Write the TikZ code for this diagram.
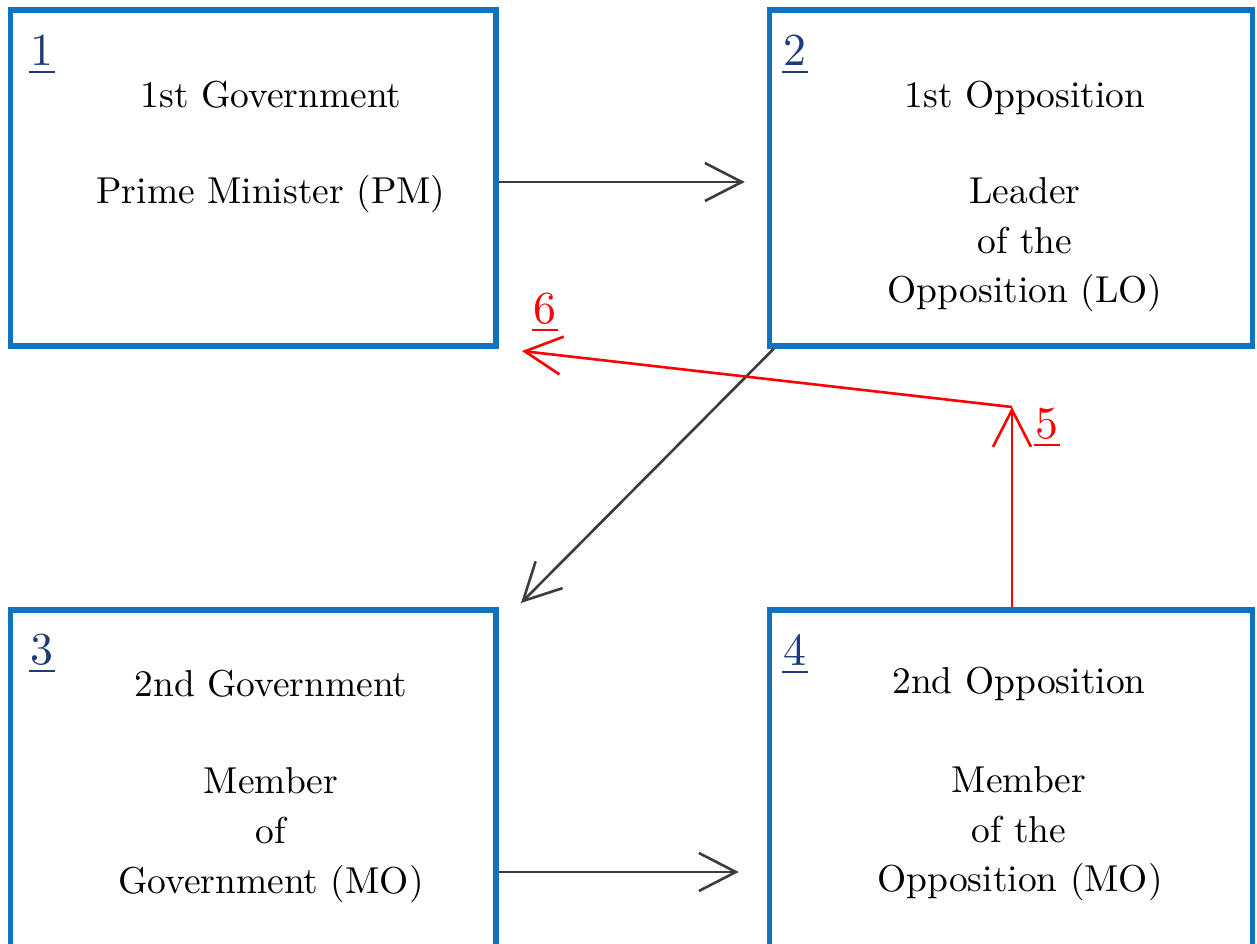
\documentclass[tikz,border=0pt]{standalone}
\usepackage{fontspec}
\usetikzlibrary{arrows.meta}
\newfontfamily\lmten{lmroman10-regular}[Extension=.otf]
\definecolor{boxblue}{RGB}{16,113,190}
\definecolor{navy}{RGB}{30,58,120}
\definecolor{arrgray}{RGB}{60,60,60}
\definecolor{arrred}{RGB}{255,0,0}
\tikzset{
  panel/.style={draw=boxblue, line width=5.5bp, rectangle, inner sep=0pt},
  txt/.style={font=\lmten\fontsize{37.6}{45}\selectfont, anchor=base, inner sep=0pt},
  num/.style={font=\lmten\fontsize{46}{50}\selectfont, text=navy, anchor=base west, inner sep=0pt},
  rnum/.style={font=\lmten\fontsize{46}{50}\selectfont, text=arrred, anchor=base, inner sep=0pt},
  uline/.style={line width=2.2bp},
  conn/.style={draw=arrgray, line width=2.6bp, -{Straight Barb[length=37bp,width=38bp]}},
  rconn/.style={draw=arrred, line width=2.6bp, -{Straight Barb[length=37bp,width=38bp]}}
}
\begin{document}
\begin{tikzpicture}[x=1bp,y=-1bp]
\useasboundingbox (0,0) rectangle (1257,944);
\clip (0,0) rectangle (1257,944);
\fill[white] (0,0) rectangle (1257,944);

% panels
\node[panel, minimum width=485.5bp, minimum height=336bp] (b1) at (253.25,178) {};
\node[panel, minimum width=483bp, minimum height=336bp] (b2) at (1011,178) {};
\node[panel, minimum width=485.5bp, minimum height=400bp] (b3) at (253.25,810) {};
\node[panel, minimum width=483bp, minimum height=400bp] (b4) at (1011,810) {};

% numbers
\node[num] (n1) at (30,65) {1};
\node[num] (n2) at (783,65) {2};
\node[num] (n3) at (30,664) {3};
\node[num] (n4) at (783,665) {4};
\foreach \n in {n1,n2,n3,n4}
  \draw[navy, uline] ([xshift=-1.5bp,yshift=-7bp]\n.base west) -- ([xshift=1.5bp,yshift=-7bp]\n.base east);

% box texts
\node[txt] (t11) at (271,107) {1st Government};
\node[txt] (t12) at (271,203) {Prime Minister (PM)};

\node[txt] (t21) at (1025,107) {1st Opposition};
\node[txt] (t22) at (1025,203) {Leader};
\node[txt] (t23) at (1025,253) {of the};
\node[txt] (t24) at (1025,302) {Opposition (LO)};

\node[txt] (t31) at (271,696) {2nd Government};
\node[txt] (t32) at (271,793) {Member};
\node[txt] (t33) at (271,843) {of};
\node[txt] (t34) at (271,893) {Government (MO)};

\node[txt] (t41) at (1019,693) {2nd Opposition};
\node[txt] (t42) at (1019,792) {Member};
\node[txt] (t43) at (1019,842) {of the};
\node[txt] (t44) at (1020,891) {Opposition (MO)};

% connectors
\coordinate (y12) at (0,182);
\coordinate (y34) at (0,872);
\coordinate (d3) at (521,603);
\coordinate (c5) at (1012,407);
\coordinate (c6) at (522,351);

\draw[conn, shorten >=22bp] (b1.east |- y12) -- (b2.west |- y12);
\draw[conn, shorten >=28bp] (b3.east |- y34) -- (b4.west |- y34);
\draw[conn] ([xshift=7bp]b2.south west) -- (d3);

\draw[rconn] (b4.north -| c5) -- (c5);
\draw[rconn] (c5) -- (c6);

% red labels
\node[rnum] (r5) at (1047,438) {5};
\node[rnum] (r6) at (545,323) {6};
\foreach \n in {r5,r6}
  \draw[arrred, uline] ([xshift=-1.5bp,yshift=-7bp]\n.base west) -- ([xshift=1.5bp,yshift=-7bp]\n.base east);
\end{tikzpicture}
\end{document}
